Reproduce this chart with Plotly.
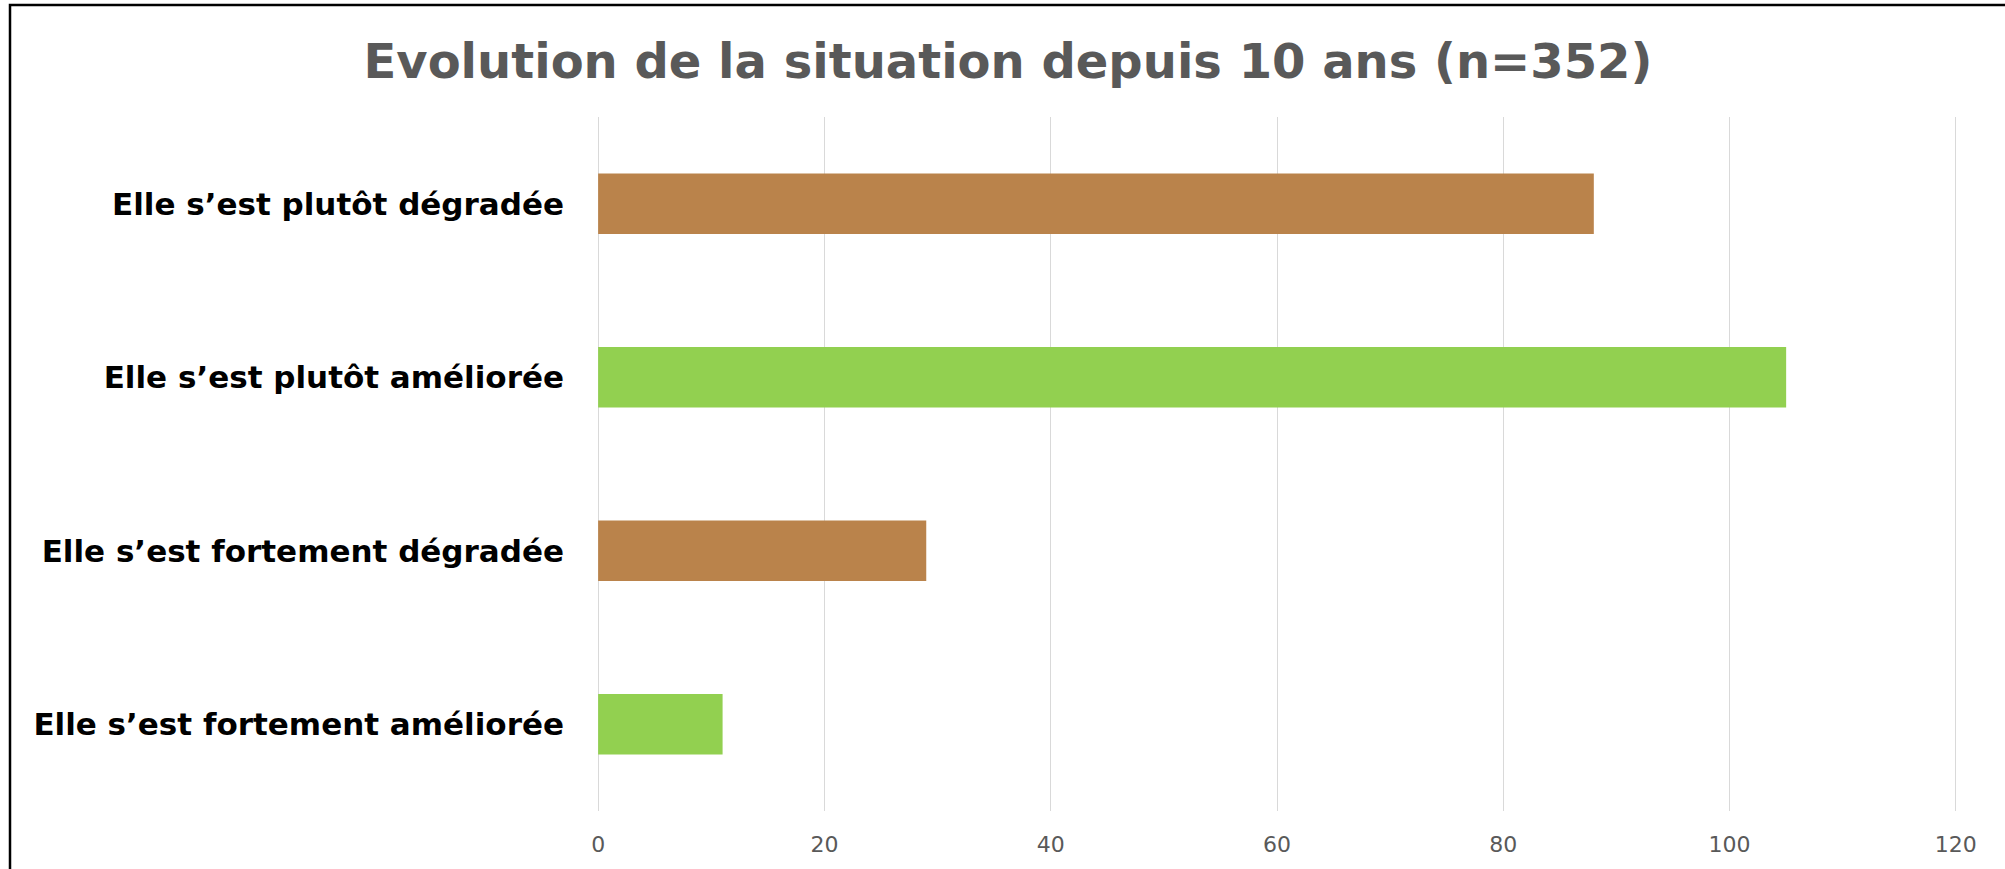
import plotly.graph_objects as go

categories = [
    "Elle s\u2019est fortement améliorée",
    "Elle s\u2019est fortement dégradée",
    "Elle s\u2019est plutôt améliorée",
    "Elle s\u2019est plutôt dégradée",
]
values = [11, 29, 105, 88]
kinds = ["am", "dg", "am", "dg"]
x_ticks = [0, 20, 40, 60, 80, 100, 120]
title_text = "Evolution de la situation depuis 10 ans (n=352)"

color_map = {"am": "#92D050", "dg": "#BA834B"}

W, H = 2005, 869
L, R, T, B = 597, 48, 117, 58
pw = W - L - R
ph = H - T - B

fig = go.Figure(
    go.Bar(
        x=values,
        y=categories,
        orientation="h",
        marker=dict(color=[color_map[k] for k in kinds], line=dict(width=0)),
        width=0.35,
        hoverinfo="x+y",
    )
)

def px_x(X):
    return (X - L) / pw

def px_y(Y):
    return (H - B - Y) / ph

fig.update_layout(
    width=W,
    height=H,
    margin=dict(l=L, r=R, t=T, b=B, pad=0),
    paper_bgcolor="white",
    plot_bgcolor="white",
    showlegend=False,
    title=dict(
        text="<b>" + title_text + "</b>",
        font=dict(family="DejaVu Sans", size=48, color="#595959"),
        x=1008 / W,
        xanchor="center",
        xref="container",
        yref="container",
        y=1 - 61 / H,
        yanchor="middle",
    ),
    xaxis=dict(
        range=[-0.1, 120.1],
        tickvals=x_ticks,
        ticktext=[str(v) for v in x_ticks],
        showgrid=True,
        gridcolor="#D9D9D9",
        gridwidth=1.3,
        zeroline=False,
        showline=False,
        ticks="",
        tickfont=dict(family="DejaVu Sans", size=22, color="#595959"),
        ticklabelstandoff=18,
        fixedrange=True,
    ),
    yaxis=dict(
        type="category",
        categoryorder="array",
        categoryarray=categories,
        showgrid=False,
        zeroline=False,
        showline=False,
        ticks="",
        tickfont=dict(family="DejaVu Sans", size=31, color="#000000", weight="bold"),
        ticklabelstandoff=32,
        fixedrange=True,
    ),
    shapes=[
        dict(
            type="rect",
            xref="paper",
            yref="paper",
            x0=px_x(10),
            x1=px_x(2020),
            y0=px_y(890),
            y1=px_y(5),
            line=dict(color="black", width=2.5),
            fillcolor="rgba(0,0,0,0)",
            layer="above",
        )
    ],
)

fig.write_html(
    "out.html",
    config={"displayModeBar": False},
    post_script="document.body.style.margin='0';document.body.style.padding='0';",
)
